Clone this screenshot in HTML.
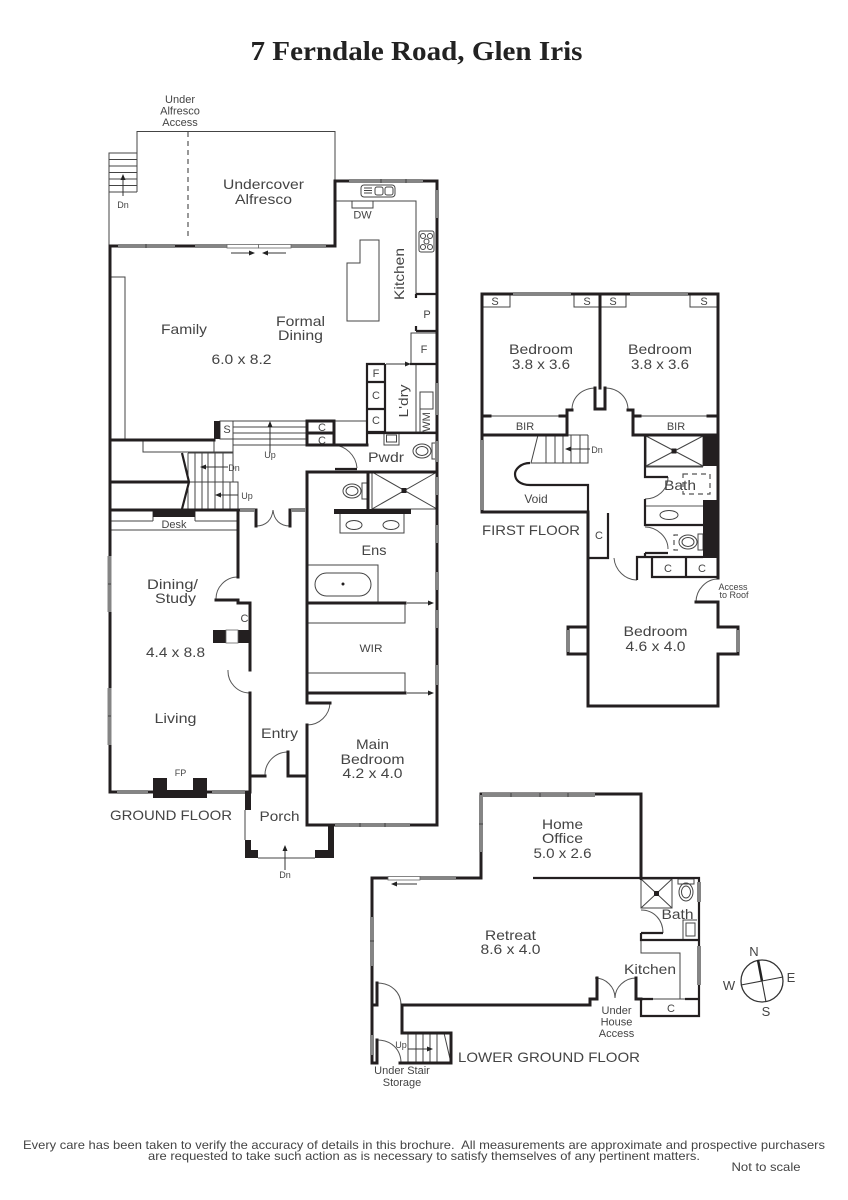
<!DOCTYPE html>
<html><head><meta charset="utf-8"><style>
html,body{margin:0;padding:0;background:#fff}
svg{display:block}
.w{fill:none;stroke:#231f20;stroke-width:3;stroke-linecap:square}
.m{fill:none;stroke:#231f20;stroke-width:2.200}
.t{fill:none;stroke:#444;stroke-width:1}
.h{fill:none;stroke:#555;stroke-width:1}
.g{fill:none;stroke:#858585;stroke-width:4}
.d{fill:none;stroke:#555;stroke-width:1.200;stroke-dasharray:5 4}
.b{fill:#231f20;stroke:none}
.wb{fill:#fff;stroke:#666;stroke-width:.8}
text{font-family:"Liberation Sans",sans-serif;fill:#444;text-anchor:middle;font-size:14px}
.s{font-size:11px}
.xs{font-size:9px}
.f{font-size:14px;text-anchor:start}
</style></head><body>
<svg width="848" height="1200" viewBox="0 0 848 1200" xmlns="http://www.w3.org/2000/svg">
<rect width="848" height="1200" fill="#fff"/>
<defs>
<marker id="ar" viewBox="0 0 6 6" refX="5" refY="3" markerWidth="6" markerHeight="6" orient="auto"><path d="M0 .5L6 3L0 5.500z" fill="#222"/></marker>
</defs>

<text x="416.500" y="60" textLength="332" lengthAdjust="spacingAndGlyphs" style="font-family:'Liberation Serif',serif;font-weight:bold;font-size:27px;fill:#222">7 Ferndale Road, Glen Iris</text>

<!-- GROUND FLOOR thin -->
<path class="t" d="M109 246V153H137M137 192H109M109 159.500H137M109 166H137M109 172.500H137M109 179H137M109 185.500H137M137 192V131.500H335V181"/>
<path class="d" d="M188 132V240"/>
<path class="t" d="M125 439V277H110"/>
<path class="t" d="M360 240H379V321H347V263H360z"/>
<path class="t" d="M336 201H416V294M352 201V208H373V201"/>
<rect class="t" x="361" y="185" width="34" height="12" rx="3"/>
<path class="t" d="M364 188H372M364 190.500H372M364 193H372"/>
<rect class="t" x="375" y="187" width="8" height="8" rx="2"/><rect class="t" x="385" y="187" width="8" height="8" rx="2"/>
<rect class="t" x="419" y="231" width="15" height="21" rx="2"/>
<circle class="t" cx="423" cy="236" r="2.500"/><circle class="t" cx="430" cy="236" r="2.500"/><circle class="t" cx="423" cy="247" r="2.500"/><circle class="t" cx="430" cy="247" r="2.500"/><circle class="t" cx="426.500" cy="241.500" r="2.500"/>
<path class="t" d="M411 364V333H437M416 364V432M385 432H437M420 392H433V409H420zM420 409V432"/>
<path class="t" d="M233 421H307M233 427H307M233 433H307M233 439H307M233 445H307"/>
<path class="t" d="M334 421H367"/>
<rect class="t" x="220" y="421" width="13" height="18"/>
<path class="t" d="M143 439V452H214M214 439V452H233V439M188 453H233V482M188 482H238V510"/>
<path class="t" d="M188 453V510M195 453V510M202 453V510M208 453V510M215 453V510M223 453V510M230 482V510"/>
<path class="m" d="M182 453L189 482L182 509"/>
<path class="t" d="M110 521H153M195 521H238M110 530H238M110 510V530M153 510V521M195 510V521"/>
<path class="t" d="M384 433V445H399V433"/><rect class="t" x="386.500" y="435" width="10" height="7"/>
<path class="t" d="M372 472V509H437M372 472L437 509M437 472L372 509"/>
<rect class="b" x="401.500" y="488" width="5" height="5"/>
<path class="t" d="M340 514V533H404V514"/>
<ellipse class="t" cx="354" cy="525" rx="8" ry="4.500"/><ellipse class="t" cx="391" cy="525" rx="8" ry="4.500"/>
<rect class="t" x="362" y="483" width="6" height="16"/>
<ellipse class="t" cx="352" cy="491" rx="9" ry="7"/><ellipse class="t" cx="352" cy="491" rx="6" ry="4.500"/>
<rect class="t" x="432" y="443" width="4" height="16"/>
<ellipse class="t" cx="422" cy="451" rx="9" ry="7"/><ellipse class="t" cx="422" cy="451" rx="6" ry="4.500"/>
<path class="t" d="M307 565H378V603M307 623H405V603M307 673H405V693"/>
<rect class="t" x="315" y="573" width="56" height="23" rx="11.500"/>
<circle class="b" cx="343" cy="584" r="1.500"/>
<path class="t" d="M245 810V840M258 858H315M250 792H245"/>
<!-- door arcs ground -->
<path class="h" d="M333 445A25 25 0 0 1 357 468M238 577A22 22 0 0 0 216 600M228 670A22 22 0 0 0 250 693M330 703A23 23 0 0 1 307 725M265 776A23 23 0 0 1 288 752M256 526C266 526 272 520 273 510C274 520 280 526 290 526"/>

<!-- GROUND FLOOR walls -->
<path class="w" d="M110 246V792H250M110 246H335V181H437V825H307V725M307 703V472H437M250 670V630M250 693V792M238 510V577M238 600H216M238 600V603H250V630M250 776H265M288 752V776H307"/>
<path class="w" d="M110 440H214M110 482H188M110 510H238M238 510H256M256 510V526M290 526V510H307"/>
<path class="w" d="M307 703H330M334 445V421H307V445H334M307 433H334M334 445H367"/>
<path class="m" d="M335 469H357M367 433H437M367 445V364H385M367 382H385M367 409H385M367 432H385M385 364V432M410 364H437M416 294H437M416 331H437M416 294V298M416 326V331M410 364H437"/>
<path class="w" d="M307 603H405M307 693H405M368 472V510"/>
<rect class="b" x="334" y="509" width="77" height="5"/>
<rect class="b" x="214" y="421" width="6" height="18"/>
<rect class="b" x="153" y="509" width="42" height="8"/>
<path class="b" d="M213 630H226V643H213zM238 630H251V643H238z"/>
<path class="b" d="M153 778H167V790H193V778H207V798H153z"/>
<path class="b" d="M245 792H251V810H245zM245 840H251V850H258V858H245zM315 850H328V825H334V858H315z"/>
<rect class="wb" x="226" y="630" width="12" height="13"/>

<!-- windows ground -->
<path class="g" d="M118 246H175M195 246H227M291 246H326M349 181H423M437 190V218M437 383V415M437 441V462M437 477V495M437 525V543M437 572V590M437 610V628M437 665V685M335 825H410M109.500 556V612M109.500 688V745M117 792H148M212 792H245M240 510H255M291 510H306"/>
<path class="t" d="M146 244V248M381 179V183M406 179V183M108 584H111M108 716H111M360 823V827M385 823V827"/>
<rect class="wb" x="227" y="244.500" width="31.500" height="3.500"/><rect class="wb" x="258.500" y="244.500" width="32.500" height="3.500"/>

<!-- arrows ground -->
<g fill="none" stroke="#333" stroke-width="1" marker-end="url(#ar)">
<path d="M231 253H254"/><path d="M286 253H263"/><path d="M386 364H410"/>
<path d="M407 603H433"/><path d="M407 693H433"/>
<path d="M123 196V175"/><path d="M270 453V422"/><path d="M285 870V846"/>
<path d="M228 467H201"/><path d="M238 495H216"/>
</g>

<!-- FIRST FLOOR thin -->
<path class="t" d="M482 307H510V295M574 295V307H600H626V295M690 295V307H718"/>
<path class="t" d="M490 416H560M640 416H708M588 435V463H531L538 435H588"/>
<path class="t" d="M546 435V463M555 435V463M563 435V463M571 435V463M580 435V463"/>
<path class="t" d="M646 436H703V466H646zM646 436L703 466M703 436L646 466"/>
<rect class="b" x="671.500" y="448.500" width="5" height="5"/>
<rect class="d" x="683" y="474" width="27" height="20"/>
<path class="t" d="M645 467H703"/>
<path class="h" d="M645 506H703"/>
<ellipse class="t" cx="669" cy="515" rx="9" ry="4.500"/>
<ellipse class="t" cx="688" cy="542" rx="9" ry="7"/><ellipse class="t" cx="688" cy="542" rx="6" ry="4.500"/>
<rect class="t" x="698" y="534" width="5" height="16"/>
<path class="d" d="M678 535H674V550H678"/>
<path class="h" d="M596 388C582 388 572 397 572 410M605 388C618 388 628 397 628 410M668 477C668 490 657 499 645 499M645 527C657 527 668 537 668 549M614 558C615 570 625 580 637 580M696 602C696 590 706 579 718 579"/>
<path class="t" d="M588 627V654"/>

<!-- FIRST FLOOR walls -->
<path class="w" d="M482 512V294H718V578M482 435H567V410H572M482 416H490M560 416H567M633 416H640M708 416H718M633 410V435H718"/>
<path class="w" d="M600 295V388M595 388V409H605V388M628 410H633"/>
<path class="m" d="M530 463C520 463 515 470 515 474C515 480 520 485 530 485H588V513"/>
<path class="w" d="M482 512H588V706H718V654H738V627H718V602M718 602H696M588 558V627H568V654H588"/>
<path class="m" d="M608 513V558H588M645 435V477H668M645 499V525H703M645 553H668M645 553V557M637 580V557H703M652 557V577H718M686 557V577"/>
<path class="b" d="M703 435H718V466H703zM703 500H718V558H703z"/>
<path class="g" d="M513 294H571M630 294H688M482 440V510M568 630V652M738 630V652"/>

<g fill="none" stroke="#333" stroke-width="1" marker-end="url(#ar)"><path d="M590 449H566"/></g>

<!-- LOWER GROUND thin -->
<path class="t" d="M641 940V953H680V999M653 999H685"/>
<path class="t" d="M641 879H672V908H641zM641 879L672 908M672 879L641 908"/>
<rect class="b" x="654" y="891" width="5" height="5"/>
<rect class="t" x="678" y="879" width="16" height="5"/>
<ellipse class="t" cx="686" cy="892" rx="7" ry="9"/><ellipse class="t" cx="686" cy="892" rx="4.500" ry="6"/>
<path class="t" d="M683 940V920H697"/><rect class="t" x="686" y="923" width="9" height="13"/>
<path class="t" d="M408 1033V1063M416 1033V1063M423 1033V1063M430 1033V1063M437 1033V1063M444 1033L451 1063"/>
<path class="h" d="M641 910C654 910 663 920 663 933M595 978C606 978 615 987 615 998C615 987 625 978 636 978M377 983C392 983 401 993 401 1005M377 1040C392 1040 401 1050 401 1063"/>

<!-- LOWER GROUND walls -->
<path class="w" d="M481 794H641V878M481 794V878H372V1063H377M372 1005H377V983M377 1040V1063"/>
<path class="m" d="M533 878H699V1016H641V999H653M685 999H699M641 878V880M641 933H663M641 933V940H699"/>
<path class="w" d="M402 1005H590V999H597V978M402 1005V1033H451V1063H400M636 978V999H641"/>
<path class="g" d="M482 795H595M481 795V852M420 878H456M699 882V902M699 946V985M372 917V966M372 1035V1055"/>
<path class="t" d="M511 793V797M540 793V797M568 793V797M479 824H483M370 941H374"/>
<rect class="wb" x="388" y="876.500" width="32" height="3.500"/>
<g fill="none" stroke="#333" stroke-width="1" marker-end="url(#ar)"><path d="M417 884H392"/><path d="M408 1049H432"/></g>

<!-- compass -->
<circle cx="762" cy="981" r="21" fill="none" stroke="#333" stroke-width="1.300"/>
<path d="M758 960L762 981" stroke="#222" stroke-width="2.500"/>
<path d="M762 981L766 1002M741 985L783 977" stroke="#333" stroke-width="1.100"/>
<text x="754" y="956" style="font-size:13px">N</text><text x="791" y="982" style="font-size:13px">E</text><text x="729" y="990" style="font-size:13px">W</text><text x="766" y="1016" style="font-size:13px">S</text>

<!-- LABELS -->
<g>
<text class="s" x="180" y="103">Under</text><text class="s" x="180" y="114.500">Alfresco</text><text class="s" x="180" y="126">Access</text>
<text x="263.500" y="189" textLength="81" lengthAdjust="spacingAndGlyphs">Undercover</text><text x="263.500" y="204" textLength="57" lengthAdjust="spacingAndGlyphs">Alfresco</text>
<text class="s" x="362.500" y="218.500">DW</text>
<text x="184" y="334" textLength="46" lengthAdjust="spacingAndGlyphs">Family</text>
<text x="300.500" y="326" textLength="49" lengthAdjust="spacingAndGlyphs">Formal</text><text x="300.500" y="340" textLength="45" lengthAdjust="spacingAndGlyphs">Dining</text>
<text x="241.500" y="364" textLength="60" lengthAdjust="spacingAndGlyphs">6.0 x 8.2</text>
<text transform="translate(404 274) rotate(-90)" textLength="52" lengthAdjust="spacingAndGlyphs">Kitchen</text>
<text class="s" x="427" y="318">P</text><text class="s" x="424" y="353">F</text>
<text class="s" x="376" y="377">F</text><text class="s" x="376" y="399">C</text><text class="s" x="376" y="424">C</text>
<text transform="translate(408 401) rotate(-90)" textLength="33" lengthAdjust="spacingAndGlyphs" style="font-size:13px">L'dry</text>
<text transform="translate(430 422) rotate(-90)" class="s">WM</text>
<text class="s" x="227" y="433">S</text>
<text class="s" x="322" y="431">C</text><text class="s" x="322" y="444">C</text>
<text x="386" y="462" textLength="36" lengthAdjust="spacingAndGlyphs">Pwdr</text>
<text class="xs" x="270" y="458">Up</text>
<text class="xs" x="234" y="471">Dn</text><text class="xs" x="247" y="499">Up</text>
<text class="xs" x="123" y="208">Dn</text>
<text class="s" x="174" y="528">Desk</text>
<text x="374" y="555" textLength="25" lengthAdjust="spacingAndGlyphs">Ens</text>
<text x="172.500" y="589" textLength="51" lengthAdjust="spacingAndGlyphs">Dining/</text><text x="175.500" y="603" textLength="41" lengthAdjust="spacingAndGlyphs">Study</text>
<text class="s" x="244.500" y="622">C</text>
<text x="175.500" y="657" textLength="59" lengthAdjust="spacingAndGlyphs">4.4 x 8.8</text>
<text class="s" x="371" y="652" textLength="23" lengthAdjust="spacingAndGlyphs">WIR</text>
<text x="175.500" y="723" textLength="42" lengthAdjust="spacingAndGlyphs">Living</text>
<text class="xs" x="180.500" y="776">FP</text>
<text x="279.500" y="738" textLength="37" lengthAdjust="spacingAndGlyphs">Entry</text>
<text x="372.500" y="749" textLength="33" lengthAdjust="spacingAndGlyphs">Main</text><text x="372.500" y="764" textLength="64" lengthAdjust="spacingAndGlyphs">Bedroom</text><text x="372.500" y="778" textLength="60" lengthAdjust="spacingAndGlyphs">4.2 x 4.0</text>
<text x="279.500" y="821" textLength="40" lengthAdjust="spacingAndGlyphs">Porch</text>
<text class="f" x="110" y="820" textLength="122" lengthAdjust="spacingAndGlyphs">GROUND FLOOR</text>
<text class="xs" x="285" y="878">Dn</text>

<text class="s" x="495" y="305">S</text><text class="s" x="587" y="305">S</text><text class="s" x="613" y="305">S</text><text class="s" x="704" y="305">S</text>
<text x="541" y="354" textLength="64" lengthAdjust="spacingAndGlyphs">Bedroom</text><text x="541" y="369" textLength="58" lengthAdjust="spacingAndGlyphs">3.8 x 3.6</text>
<text x="660" y="354" textLength="64" lengthAdjust="spacingAndGlyphs">Bedroom</text><text x="660" y="369" textLength="58" lengthAdjust="spacingAndGlyphs">3.8 x 3.6</text>
<text class="s" x="525" y="430">BIR</text><text class="s" x="676" y="430">BIR</text>
<text class="xs" x="597" y="453">Dn</text>
<text x="680" y="490" textLength="32" lengthAdjust="spacingAndGlyphs">Bath</text>
<text class="s" x="536" y="503" style="font-size:12px">Void</text>
<text class="f" x="482" y="535" textLength="98" lengthAdjust="spacingAndGlyphs">FIRST FLOOR</text>
<text class="s" x="599" y="539">C</text><text class="s" x="668" y="572">C</text><text class="s" x="702" y="572">C</text>
<text class="xs" x="733" y="590">Access</text><text class="xs" x="734" y="598">to Roof</text>
<text x="655.500" y="636" textLength="64" lengthAdjust="spacingAndGlyphs">Bedroom</text><text x="655.500" y="651" textLength="60" lengthAdjust="spacingAndGlyphs">4.6 x 4.0</text>

<text x="562.500" y="829" textLength="41" lengthAdjust="spacingAndGlyphs">Home</text><text x="562.500" y="843" textLength="41" lengthAdjust="spacingAndGlyphs">Office</text><text x="562.500" y="858" textLength="58" lengthAdjust="spacingAndGlyphs">5.0 x 2.6</text>
<text x="510.500" y="940" textLength="51" lengthAdjust="spacingAndGlyphs">Retreat</text><text x="510.500" y="954" textLength="60" lengthAdjust="spacingAndGlyphs">8.6 x 4.0</text>
<text x="677.500" y="919" textLength="32" lengthAdjust="spacingAndGlyphs">Bath</text>
<text x="650" y="974" textLength="52" lengthAdjust="spacingAndGlyphs">Kitchen</text>
<text class="s" x="671" y="1012">C</text>
<text class="s" x="616.500" y="1014">Under</text><text class="s" x="616.500" y="1025.500">House</text><text class="s" x="616.500" y="1037">Access</text>
<text class="f" x="458" y="1062" textLength="182" lengthAdjust="spacingAndGlyphs">LOWER GROUND FLOOR</text>
<text class="s" x="402" y="1074">Under Stair</text><text class="s" x="402" y="1086">Storage</text>
<text class="xs" x="401" y="1048">Up</text>

<text x="424" y="1149" textLength="802" lengthAdjust="spacingAndGlyphs" style="font-size:12px">Every care has been taken to verify the accuracy of details in this brochure.&#160; All measurements are approximate and prospective purchasers</text>
<text x="424" y="1160" textLength="552" lengthAdjust="spacingAndGlyphs" style="font-size:12px">are requested to take such action as is necessary to satisfy themselves of any pertinent matters.</text>
<text x="766" y="1171" textLength="69" lengthAdjust="spacingAndGlyphs" style="font-size:12px">Not to scale</text>
</g>
</svg>
</body></html>
